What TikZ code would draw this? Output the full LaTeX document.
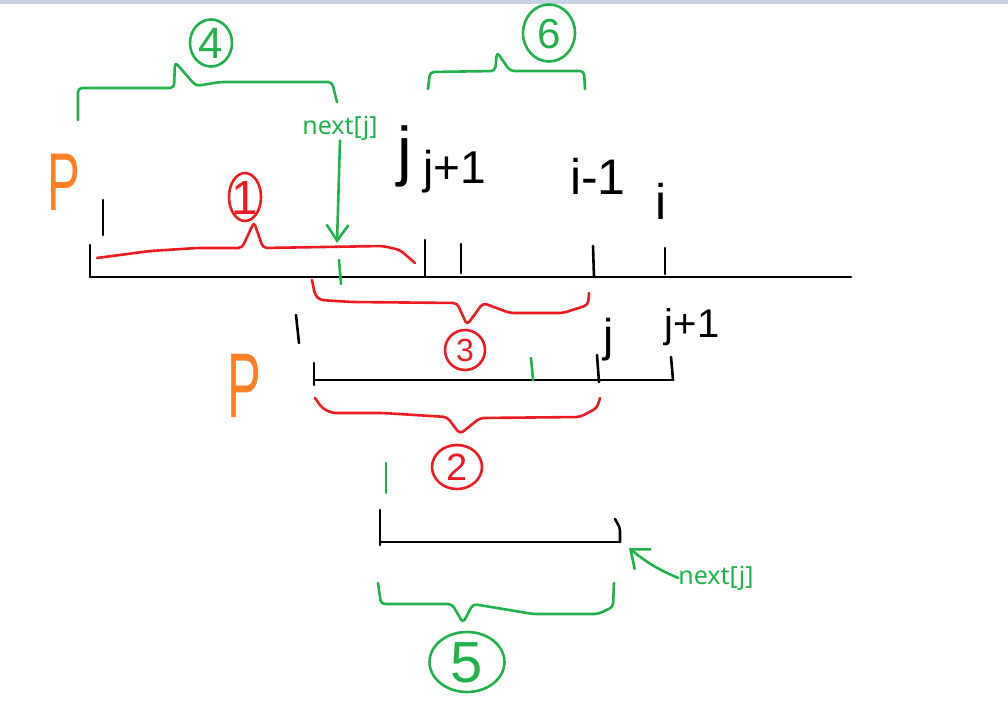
\documentclass[tikz,border=0pt]{standalone}
\usepackage{fontspec}
\setmainfont{Liberation Sans}
\newfontfamily\uifont{Noto Sans}
\usetikzlibrary{arrows.meta,shapes.geometric}
\definecolor{pgreen}{RGB}{34,177,76}
\definecolor{pred}{RGB}{237,28,36}
\definecolor{porange}{RGB}{255,127,39}
\definecolor{topbar}{RGB}{200,208,228}
\newcommand{\fs}[1]{\fontsize{#1}{#1}\selectfont}
\newcommand{\cnum}[1]{\smash{\makebox[0pt]{\raisebox{-0.358em}{#1}}}}
\begin{document}
\begin{tikzpicture}[x=1pt,y=-1pt,line cap=round,line join=round,
  pen/.style={line width=2.6pt},
  bpen/.style={pen,black},
  gpen/.style={pen,pgreen},
  rpen/.style={pen,pred},
  brace/.style={pen,rounded corners=4pt},
  lab/.style={inner sep=0pt,text=black},
  circ/.style={ellipse,draw,pen,inner sep=0pt},
  nexttext/.style={inner sep=0pt,text=pgreen,font=\uifont\fs{25}},
  barb/.style={-{Straight Barb[length=16pt,width=22pt]}}]
\useasboundingbox (0,0) rectangle (1008,717);
\fill[topbar] (0,0) rectangle (1008,4);

% ---------- main line ----------
\draw[bpen] (90,277) -- (851,277);
\draw[bpen] (90,245) -- (90,277);
\draw[bpen] (103,200) -- (103,235);
\draw[bpen] (425,240) -- (425,277);
\draw[bpen] (461,244) -- (461,273);
\draw[bpen] (593,246) -- (594,277);
\draw[bpen] (665,248) -- (665,274);
\draw[gpen] (339,260) -- (341,284);

% labels above main line
\node[lab,font=\fs{66}] (jtop) at (405,156) {j};
\node[lab,font=\fs{46}] (jp1top) at (455,172) {j+1};
\node[lab,font=\fs{50}] (im1) at (598,176) {i-1};
\node[lab,font=\fs{50}] (itop) at (661,201) {i};
\node[lab,text=porange,font=\fs{82},xscale=0.6] (ptop) at (64,182) {P};

% brace 4 (green)
\draw[brace,pgreen] (78,120) -- (78,88) -- (174,88) -- (175,62) -- (196,86) -- (220,82) -- (332,82) -- (337,102);
\node[circ,draw=pgreen,text=pgreen,minimum width=42pt,minimum height=47pt,font=\fs{44}] (c4) at (211,43) {\cnum{4}};

% brace 6 (green)
\draw[brace,pgreen] (428,89) -- (430,72) -- (495,71) -- (497,52) -- (510,71) -- (584,71) -- (585,89);
\node[circ,draw=pgreen,text=pgreen,minimum width=52pt,minimum height=57pt,font=\fs{42}] (c6) at (549,33) {\cnum{6}};

% brace 1 (red)
\draw[brace,pred] (97,258) -- (150,251) -- (197,248) -- (242,248) -- (254,222) -- (263,248) -- (383,246) -- (400,250) -- (415,263);
\node[circ,draw=pred,text=pred,minimum width=32pt,minimum height=48pt,font=\fs{48}] (c1) at (245,197) {\cnum{1}};

% next[j] arrow (top)
\node[nexttext] (nx1) at (340,128) {next[j]};
\coordinate (t1) at (337,243);
\draw[gpen,barb] (nx1.south) -- (t1);

% brace 3 (red)
\draw[brace,pred] (312,280) -- (315,295) -- (320,300) -- (352,302) -- (457,303) -- (467,325) -- (483,303) -- (510,313) -- (563,313) -- (588,305) -- (589,293);
\node[circ,draw=pred,text=pred,minimum width=40pt,minimum height=40pt,font=\fs{32}] (c3) at (465,350) {\cnum{3}};

% ---------- second line ----------
\draw[bpen] (314,380) -- (673,380);
\draw[bpen] (314,363) -- (314,385);
\draw[bpen] (597,355) -- (599,382);
\draw[bpen] (671,357) -- (673,380);
\draw[gpen] (531,358) -- (533,380);
\draw[bpen] (296,315) -- (299,343);
\node[lab,font=\fs{46}] (j2) at (609,340) {j};
\node[lab,font=\fs{40}] (jp12) at (692,327) {j+1};
\node[lab,text=porange,font=\fs{92},xscale=0.55] (p2) at (244,386) {P};

% brace 2 (red)
\draw[brace,pred] (315,398) -- (322,408) -- (332,413) -- (383,413) -- (447,417) -- (460,434) -- (480,418) -- (580,417) -- (597,408) -- (600,398);
\node[circ,draw=pred,text=pred,minimum width=50pt,minimum height=44pt,font=\fs{38}] (c2) at (457,467) {\cnum{2}};

% ---------- third line ----------
\draw[gpen] (386,463) -- (386,493);
\draw[bpen] (380,542) -- (620,542);
\draw[bpen] (380,510) -- (380,545);
\draw[bpen,rounded corners=3pt] (615,519) -- (620,528) -- (620,542);

% next[j] arrow (bottom)
\node[nexttext] (nx2) at (716,578) {next[j]};
\coordinate (t2) at (629,548);
\draw[gpen,-{Straight Barb[length=16pt,width=26pt]}] (nx2.west) to[bend left=8] (t2);

% brace 5 (green)
\draw[brace,pgreen] (378,583) -- (381,604) -- (452,604) -- (463,623) -- (473,604) -- (533,614) -- (598,614) -- (613,607) -- (614,583);
\node[circ,draw=pgreen,text=pgreen,minimum width=75pt,minimum height=60pt,font=\fs{58}] (c5) at (467,662) {\cnum{5}};
\end{tikzpicture}
\end{document}
